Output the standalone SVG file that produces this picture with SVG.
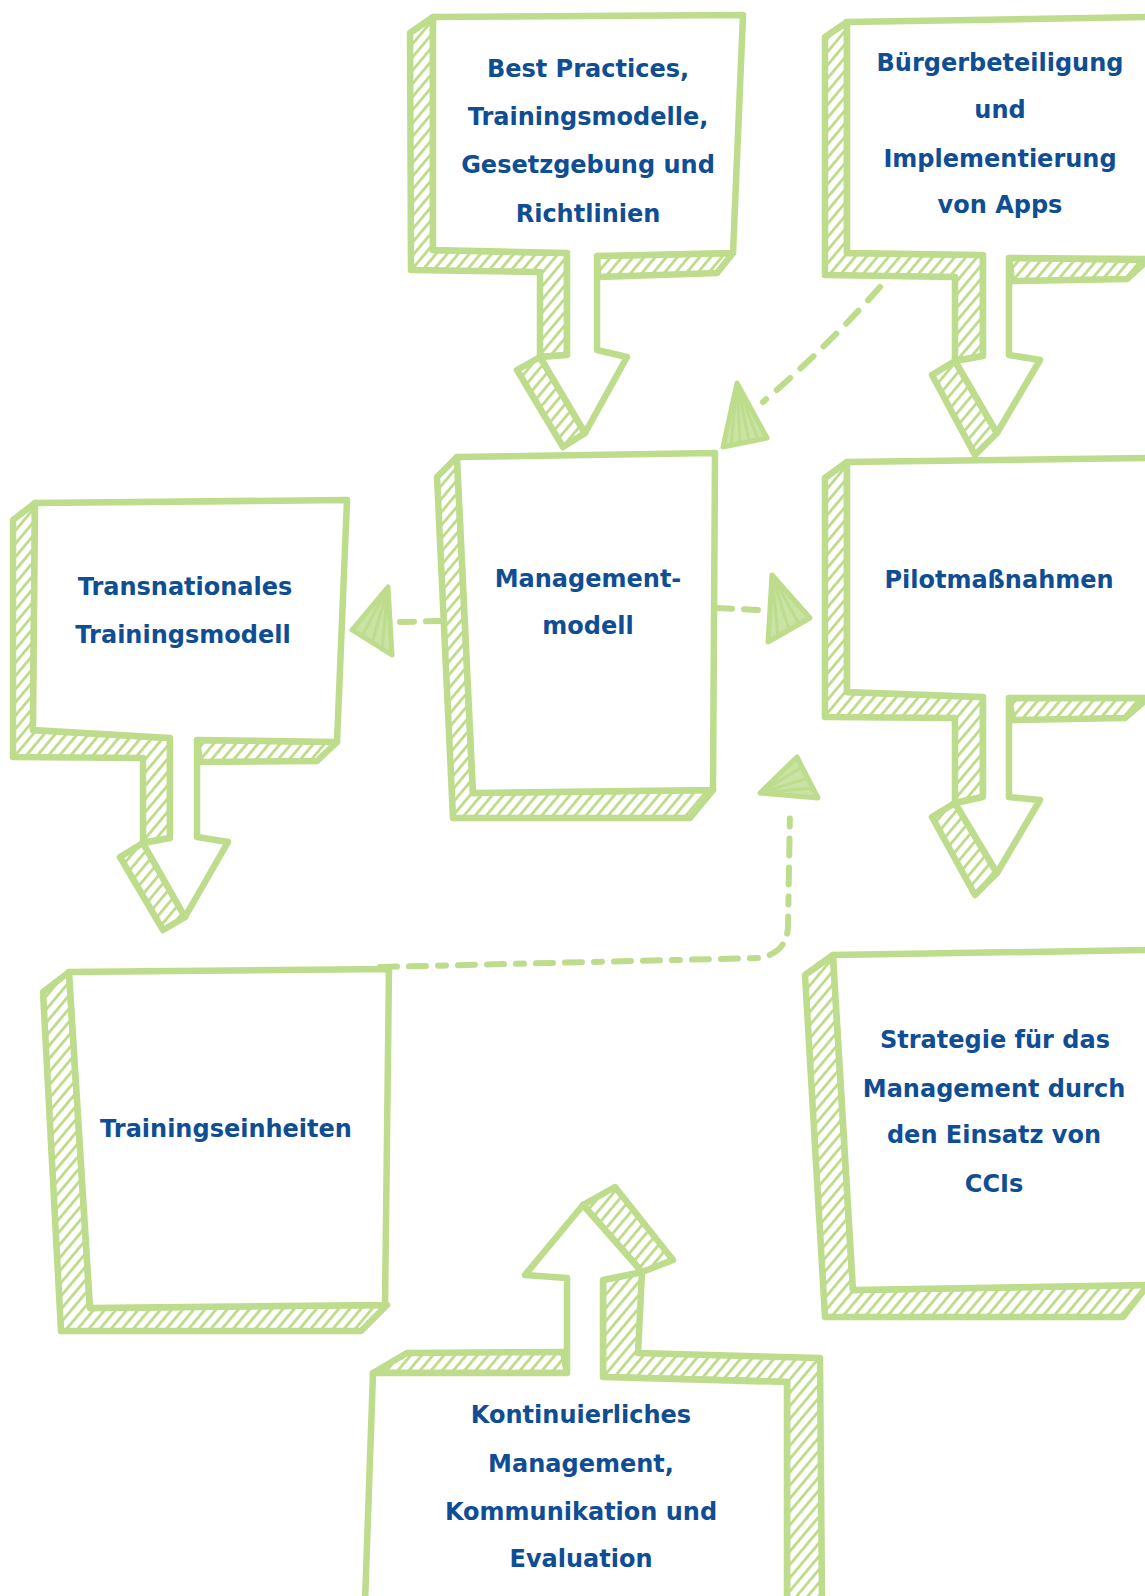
<svg xmlns="http://www.w3.org/2000/svg" width="1145" height="1596" viewBox="0 0 1145 1596">
<defs>
<pattern id="hatch" patternUnits="userSpaceOnUse" width="8.5" height="8.5" patternTransform="rotate(40)">
<rect width="8.5" height="8.5" fill="#fff"/>
<line x1="4.25" y1="0" x2="4.25" y2="8.5" stroke="#bddc8c" stroke-width="2.8"/>
</pattern>
<style>
.h{fill:url(#hatch);stroke:#bddc8c;stroke-width:6.5;stroke-linejoin:round}
.w{fill:#fff;stroke:#bddc8c;stroke-width:6.5;stroke-linejoin:round}
.t{font-family:"DejaVu Sans",sans-serif;font-weight:bold;font-size:24px;fill:#0f4d94;text-anchor:middle}
.d{fill:none;stroke:#bddc8c;stroke-width:6;stroke-linecap:round}
.ah{fill:#c9e3a4;stroke:#bddc8c;stroke-width:5;stroke-linejoin:round}
.sl{stroke:#bddc8c;stroke-width:3;stroke-linecap:round}
</style>
</defs>
<rect width="1145" height="1596" fill="#fff"/>

<g id="connectors">
<path class="d" d="M880,287 Q826,348 763,402" stroke-dasharray="18 14"/>
<polygon class="ah" points="737,383 723,447 767,438"/>
<path class="sl" d="M737,383 L731,445 M737,383 L740,443 M737,383 L749,441 M737,383 L758,440"/>

<path class="d" d="M440,621 L400,622" stroke-dasharray="14 12"/>
<polygon class="ah" points="352,630 388,587 392,655"/>
<path class="sl" d="M388,587 L362,636 M388,587 L372,643 M388,587 L382,649"/>

<path class="d" d="M718,608 L760,610" stroke-dasharray="14 12"/>
<polygon class="ah" points="772,575 810,618 768,642"/>
<path class="sl" d="M772,575 L778,636 M772,575 L789,630 M772,575 L799,624"/>

<path class="d" d="M380,967 L760,958 Q788,952 788,925 L790,810" stroke-dasharray="17 12 17 12 8 12"/>
<polygon class="ah" points="797,757 760,793 818,798"/>
<path class="sl" d="M760,793 L802,767 M760,793 L808,778 M760,793 L813,788"/>
</g>

<g id="node-best-practices">
<polygon class="h" points="433,17 410,33 411,270 540,272 540,357 567,355 567,253 433,250"/>
<polygon class="h" points="597,256 733,253 717,273 598,277"/>
<polygon class="h" points="517,370 540,357 585,433 563,447"/>
<polygon class="w" points="433,17 743,15 733,253 597,256 597,350 627,357 585,433 540,357 567,355 567,253 433,250"/>
<text class="t" x="588" y="77">Best Practices,</text>
<text class="t" x="588" y="125">Trainingsmodelle,</text>
<text class="t" x="588" y="173">Gesetzgebung und</text>
<text class="t" x="588" y="222">Richtlinien</text>
</g>

<g id="node-buergerbeteiligung">
<polygon class="h" points="847,22 825,37 825,275 955,277 955,361 983,356 983,255 847,253"/>
<polygon class="h" points="1009,258 1148,260 1127,279 1012,281"/>
<polygon class="h" points="932,375 955,361 997,433 975,455"/>
<polygon class="w" points="847,22 1152,17 1152,259 1009,258 1009,355 1040,360 997,433 955,361 983,356 983,255 847,253"/>
<text class="t" x="1000" y="71">Bürgerbeteiligung</text>
<text class="t" x="1000" y="118">und</text>
<text class="t" x="1000" y="167">Implementierung</text>
<text class="t" x="1000" y="213">von Apps</text>
</g>

<g id="node-transnationales">
<polygon class="h" points="35,503 13,520 13,757 143,758 143,843 170,838 170,738 33,730"/>
<polygon class="h" points="197,740 337,742 317,761 200,762"/>
<polygon class="h" points="120,857 143,843 185,917 163,930"/>
<polygon class="w" points="35,503 347,500 337,742 197,740 197,837 228,842 185,917 143,843 170,838 170,738 33,730"/>
<text class="t" x="185" y="595">Transnationales</text>
<text class="t" x="183" y="643">Trainingsmodell</text>
</g>

<g id="node-managementmodell">
<polygon class="h" points="457,457 437,477 453,818 690,818 713,790 473,793"/>
<polygon class="w" points="457,457 715,453 713,790 473,793"/>
<text class="t" x="588" y="587">Management-</text>
<text class="t" x="588" y="634">modell</text>
</g>

<g id="node-pilotmassnahmen">
<polygon class="h" points="847,462 825,478 825,717 955,718 955,803 983,797 983,697 847,692"/>
<polygon class="h" points="1009,698 1148,698 1125,718 1013,720"/>
<polygon class="h" points="932,817 955,803 997,873 975,895"/>
<polygon class="w" points="847,462 1152,458 1152,698 1009,698 1009,797 1040,800 997,873 955,803 983,797 983,697 847,692"/>
<text class="t" x="999" y="588">Pilotmaßnahmen</text>
</g>

<g id="node-trainingseinheiten">
<polygon class="h" points="69,972 43,992 61,1331 361,1331 387,1305 90,1308"/>
<polygon class="w" points="69,972 389,969 385,1305 90,1308"/>
<text class="t" x="226" y="1137">Trainingseinheiten</text>
</g>

<g id="node-strategie">
<polygon class="h" points="833,955 805,975 825,1317 1123,1317 1148,1285 853,1290"/>
<polygon class="w" points="833,955 1152,950 1152,1285 853,1290"/>
<text class="t" x="995" y="1048">Strategie für das</text>
<text class="t" x="994" y="1097">Management durch</text>
<text class="t" x="994" y="1143">den Einsatz von</text>
<text class="t" x="994" y="1192">CCIs</text>
</g>

<g id="node-kontinuierliches">
<polygon class="h" points="373,1373 407,1353 563,1352 567,1373"/>
<polygon class="h" points="603,1377 603,1280 642,1272 638,1353 820,1358 822,1602 787,1602 787,1382"/>
<polygon class="h" points="583,1205 615,1187 673,1260 642,1272"/>
<polygon class="w" points="373,1373 567,1373 567,1278 525,1275 583,1205 642,1272 603,1280 603,1377 787,1382 787,1602 365,1602"/>
<text class="t" x="581" y="1423">Kontinuierliches</text>
<text class="t" x="581" y="1472">Management,</text>
<text class="t" x="581" y="1520">Kommunikation und</text>
<text class="t" x="581" y="1567">Evaluation</text>
</g>
</svg>
